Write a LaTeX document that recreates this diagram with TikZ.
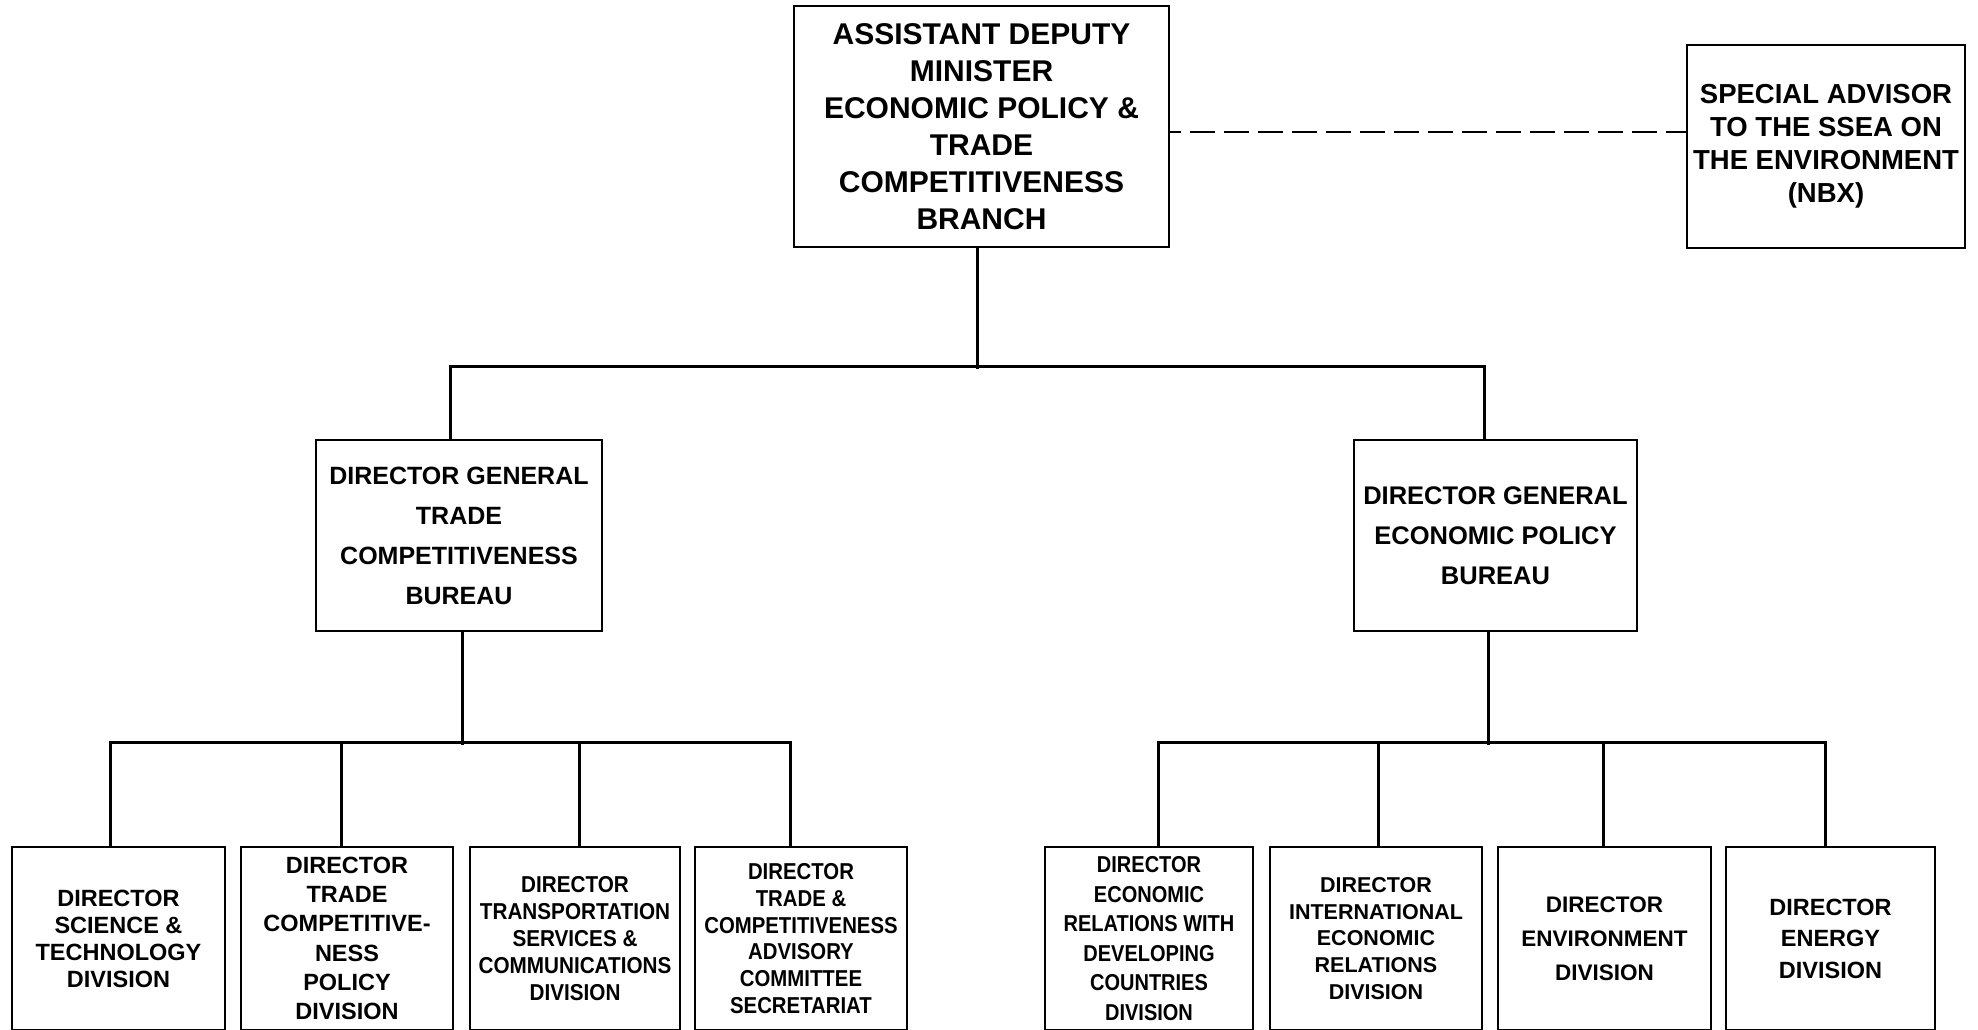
\documentclass[tikz,border=0pt]{standalone}
\usepackage{fontspec}
\setmainfont{Liberation Sans}
\newfontfamily\condA[FakeStretch=0.9]{Liberation Sans}
\newfontfamily\condB[FakeStretch=0.885]{Liberation Sans}
\newfontfamily\condC[FakeStretch=0.87]{Liberation Sans}
\begin{document}
\begin{tikzpicture}[x=1pt,y=1pt,line width=3pt,
  box/.style={draw, line width=2.8pt, inner sep=0pt, align=center},
  fs/.style n args={2}{font=\bfseries\fontsize{#1}{#2}\selectfont},
  cfs/.style n args={3}{font=#1\bfseries\fontsize{#2}{#3}\selectfont},
  link/.style={line width=3pt},
  dashlink/.style={line width=2.6pt, dash pattern=on 25pt off 9pt, dash phase=14pt}
]
\useasboundingbox (0,0) rectangle (1978,-1030);
\clip (0,0) rectangle (1978,-1030);
\fill[white] (0,0) rectangle (1978,-1030);

% top level
\node[box, minimum width=375pt, minimum height=241pt, fs={30}{37}] (adm) at (981.5,-126.5)
  {ASSISTANT DEPUTY\\MINISTER\\ECONOMIC POLICY \&\\TRADE\\COMPETITIVENESS\\BRANCH};
\node[box, minimum width=278pt, minimum height=203pt, fs={27.5}{33}] (sa) at (1826,-146.5)
  {SPECIAL ADVISOR\\TO THE SSEA ON\\THE ENVIRONMENT\\(NBX)};

% directors general
\node[box, minimum width=286pt, minimum height=191pt, fs={25}{40}] (dgt) at (459,-535.5)
  {DIRECTOR GENERAL\\TRADE\\COMPETITIVENESS\\BUREAU};
\node[box, minimum width=283pt, minimum height=191pt, fs={25.5}{40}] (dge) at (1495.5,-535.5)
  {DIRECTOR GENERAL\\ECONOMIC POLICY\\BUREAU};

% directors
\node[box, minimum width=213pt, minimum height=183pt, fs={23.5}{27}] (b1) at (118.5,-938.5)
  {DIRECTOR\\SCIENCE \&\\TECHNOLOGY\\DIVISION};
\node[box, minimum width=212pt, minimum height=183pt, fs={23.5}{29.3}] (b2) at (347,-938.5)
  {DIRECTOR\\TRADE\\COMPETITIVE-\\NESS\\POLICY\\DIVISION};
\node[box, minimum width=210pt, minimum height=183pt, cfs={\condA}{23}{26.8}] (b3) at (575,-938.5)
  {DIRECTOR\\TRANSPORTATION\\SERVICES \&\\COMMUNICATIONS\\DIVISION};
\node[box, minimum width=212pt, minimum height=183pt, cfs={\condB}{23}{26.8}] (b4) at (801,-938.5)
  {DIRECTOR\\TRADE \&\\COMPETITIVENESS\\ADVISORY\\COMMITTEE\\SECRETARIAT};
\node[box, minimum width=208pt, minimum height=183pt, cfs={\condC}{23}{29.5}] (b5) at (1149,-938.5)
  {DIRECTOR\\ECONOMIC\\RELATIONS WITH\\DEVELOPING\\COUNTRIES\\DIVISION};
\node[box, minimum width=212pt, minimum height=183pt, fs={21.5}{26.8}] (b6) at (1376,-938.5)
  {DIRECTOR\\INTERNATIONAL\\ECONOMIC\\RELATIONS\\DIVISION};
\node[box, minimum width=213pt, minimum height=183pt, fs={22.5}{34}] (b7) at (1604.5,-938.5)
  {DIRECTOR\\ENVIRONMENT\\DIVISION};
\node[box, minimum width=209pt, minimum height=183pt, fs={23.5}{31.5}] (b8) at (1830.5,-938.5)
  {DIRECTOR\\ENERGY\\DIVISION};

% connectors
\draw[dashlink] ([yshift=-5.5pt]adm.east) -- ([yshift=14.5pt]sa.west);
\draw[link] ([xshift=-4.5pt]adm.south) -- ++(0,-121);
\draw[link] ([xshift=-9pt]dgt.north) -- ++(0,72) -| ([xshift=-11.5pt]dge.north);

\draw[link] ([xshift=3pt]dgt.south) -- ++(0,-113);
\draw[link] ([xshift=-8.5pt]b1.north) -- ++(0,103) -| ([xshift=-11pt]b4.north);
\draw[link] ([xshift=-6pt]b2.north) -- ++(0,103);
\draw[link] ([xshift=4pt]b3.north) -- ++(0,103);

\draw[link] ([xshift=-7.5pt]dge.south) -- ++(0,-113);
\draw[link] ([xshift=9pt]b5.north) -- ++(0,103) -| ([xshift=-5.5pt]b8.north);
\draw[link] ([xshift=2pt]b6.north) -- ++(0,103);
\draw[link] ([xshift=-1.5pt]b7.north) -- ++(0,103);
\end{tikzpicture}
\end{document}
